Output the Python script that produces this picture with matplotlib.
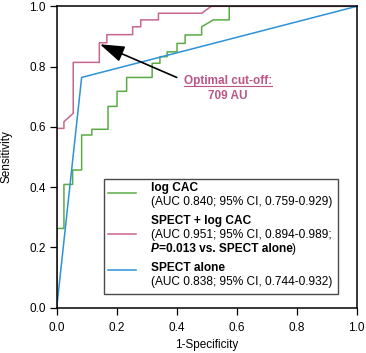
import matplotlib.pyplot as plt
from matplotlib.patches import Rectangle

plt.rcParams['font.family'] = ['Liberation Sans', 'DejaVu Sans']

# ROC curves, points
LOGCAC_FPR = [0, 0, 0.024, 0.024, 0.053, 0.053, 0.083, 0.083, 0.117, 0.117, 0.171, 0.171,
              0.201, 0.201, 0.233, 0.233, 0.318, 0.318, 0.344, 0.344, 0.368, 0.368,
              0.401, 0.401, 0.428, 0.428, 0.483, 0.483, 0.522, 0.575, 0.575, 1.0]
LOGCAC_TPR = [0, 0.263, 0.263, 0.409, 0.409, 0.457, 0.457, 0.573, 0.573, 0.592, 0.592, 0.668,
              0.668, 0.718, 0.718, 0.764, 0.764, 0.811, 0.811, 0.833, 0.833, 0.849,
              0.849, 0.877, 0.877, 0.905, 0.905, 0.932, 0.955, 0.955, 1.0, 1.0]

COMBO_FPR = [0, 0, 0.024, 0.024, 0.055, 0.055, 0.142, 0.142, 0.167, 0.167, 0.253, 0.253,
             0.28, 0.28, 0.339, 0.339, 0.483, 0.515, 1.0]
COMBO_TPR = [0, 0.595, 0.595, 0.617, 0.645, 0.814, 0.814, 0.879, 0.879, 0.906, 0.906, 0.932,
             0.932, 0.955, 0.955, 0.977, 0.977, 1.0, 1.0]

SPECT_FPR = [0, 0.083, 1.0]
SPECT_TPR = [0, 0.764, 1.0]

CUTOFF_POINT = (0.144, 0.874)   # optimal cut-off on combined curve
CUTOFF_LABEL = ['Optimal cut-off:', '709 AU']
TICKS = [0.0, 0.2, 0.4, 0.6, 0.8, 1.0]

GREEN = '#5aab45'
PINK = '#c7668f'
BLUE = '#2b93d6'
LABEL_PINK = '#bb5585'

fig = plt.figure(figsize=(3.66, 3.53), dpi=100)
ax = fig.add_axes([0.155, 0.1283, 0.8197, 0.8538])

ax.plot(LOGCAC_FPR, LOGCAC_TPR, color=GREEN, lw=1.1)
ax.plot(COMBO_FPR, COMBO_TPR, color=PINK, lw=1.1)
ax.plot(SPECT_FPR, SPECT_TPR, color=BLUE, lw=1.1)

ax.set_xlim(0, 1)
ax.set_ylim(0, 1)
ax.set_xticks(TICKS)
ax.set_yticks(TICKS)
ax.set_xticklabels([f'{t:.1f}' for t in TICKS])
ax.set_yticklabels([f'{t:.1f}' for t in TICKS])
ax.tick_params(direction='out', length=5, width=0.9, labelsize=8.5, pad=3)
ax.tick_params(axis='x', pad=5)
for s in ax.spines.values():
    s.set_linewidth(1.1)

ax.set_xlabel('1-Specificity', fontsize=8.5)
ax.set_ylabel('Sensitivity', fontsize=8.5)
ax.xaxis.set_label_coords(0.5, -0.103)
ax.yaxis.set_label_coords(-0.147, 0.5)

# arrow to optimal cut-off
ax.annotate('', xy=CUTOFF_POINT, xytext=(0.40, 0.764),
            arrowprops=dict(arrowstyle='-|>,head_length=0.75,head_width=0.25',
                            mutation_scale=20, color='black', lw=1.2,
                            shrinkA=0, shrinkB=0))
t1 = ax.text(0.57, 0.752, CUTOFF_LABEL[0], color=LABEL_PINK, fontsize=8.5,
             fontweight='bold', ha='center', va='center')
ax.text(0.57, 0.703, CUTOFF_LABEL[1], color=LABEL_PINK, fontsize=8.5,
        fontweight='bold', ha='center', va='center')

# underline for the cut-off label
fig.canvas.draw()
bb = t1.get_window_extent().transformed(ax.transAxes.inverted())
ax.plot([bb.x0, bb.x1], [bb.y0 + 0.004, bb.y0 + 0.004], transform=ax.transAxes,
        color=LABEL_PINK, lw=0.8)

# legend drawn by hand (mixed bold / normal lines)
ax.add_patch(Rectangle((0.158, 0.045), 0.781, 0.381, transform=ax.transAxes,
                       facecolor='white', edgecolor='#4a4a4a', lw=1.0, zorder=3))
fs = 8.6
tx = 0.313
entries = [
    (GREEN, 0.38, [(0.396, 'log CAC', 'bold'),
                   (0.352, '(AUC 0.840; 95% CI, 0.759-0.929)', 'normal')]),
    (PINK, 0.244, [(0.289, 'SPECT + log CAC', 'bold'),
                   (0.241, '(AUC 0.951; 95% CI, 0.894-0.989;', 'normal')]),
    (BLUE, 0.125, [(0.131, 'SPECT alone', 'bold'),
                   (0.084, '(AUC 0.838; 95% CI, 0.744-0.932)', 'normal')]),
]
for color, ly, lines in entries:
    ax.plot([0.171, 0.265], [ly, ly], transform=ax.transAxes, color=color,
            lw=1.1, zorder=4)
    for y, s, w in lines:
        ax.text(tx, y, s, transform=ax.transAxes, fontsize=fs, fontweight=w,
                ha='left', va='center', zorder=4)

# third line of the combined entry: italic P, bold rest, plain bracket
p = ax.text(tx, 0.195, 'P', transform=ax.transAxes, fontsize=fs, fontweight='bold',
            fontstyle='italic', ha='left', va='center', zorder=4)
p = ax.annotate('=0.013 vs. SPECT alone', xy=(1, 0), xycoords=p, fontsize=fs,
                fontweight='bold', ha='left', va='bottom', zorder=4)
ax.annotate(')', xy=(1, 0), xycoords=p, fontsize=fs, ha='left', va='bottom', zorder=4)

fig.savefig('out.png', dpi=100)
